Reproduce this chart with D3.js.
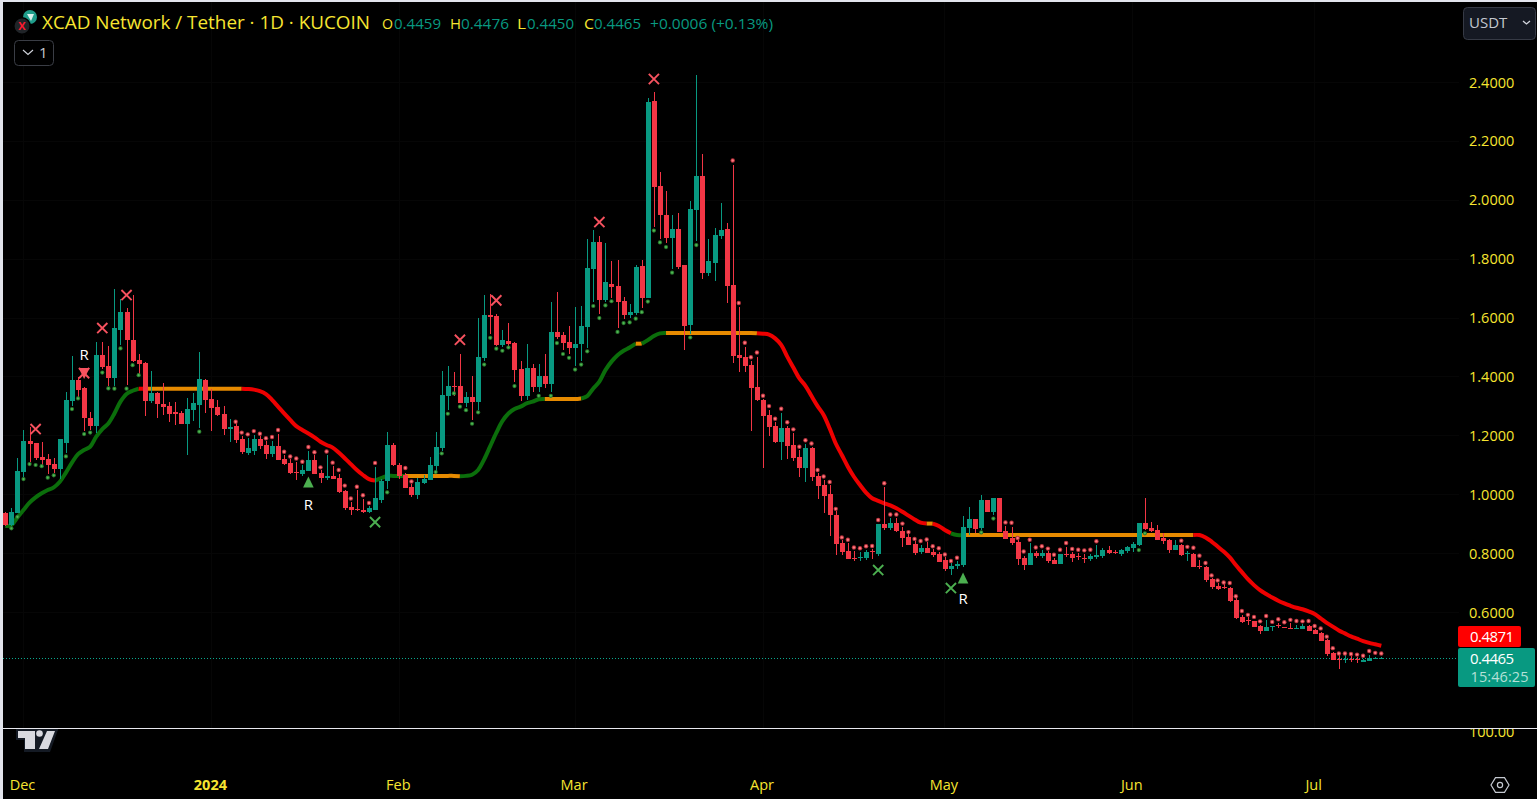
<!DOCTYPE html>
<html><head><meta charset="utf-8">
<script src="https://cdn.jsdelivr.net/npm/d3@7"></script>
<style>
html,body{margin:0;padding:0;background:#000;overflow:hidden}
svg{display:block}
text{font-family:"Open Sans","Noto Sans",sans-serif}
</style></head><body>
<svg id="c" width="1537" height="799"></svg>
<script>
const firstDay = "2023-11-28";
const opens = [
.939,.897,.939,1.078,1.182,1.176,1.128,1.121,1.104,1.087,
1.176,1.318,1.390,1.364,1.261,1.233,1.475,1.437,1.396,1.560,
1.621,1.526,1.458,1.447,1.319,1.345,1.308,1.301,1.281,1.278,
1.240,1.288,1.305,1.390,1.325,1.298,1.274,1.223,1.233,1.189,
1.142,1.148,1.189,1.169,1.138,1.165,1.121,1.108,1.077,1.070,
1.081,1.118,1.074,1.057,1.063,1.057,1.012,.958,.951,.948,
.941,.948,.982,1.047,1.169,1.101,1.067,1.026,.999,1.040,
1.050,1.097,1.159,1.335,1.369,1.369,1.312,1.332,1.315,1.465,
1.610,1.607,1.508,1.522,1.515,1.427,1.335,1.430,1.366,1.403,
1.376,1.552,1.542,1.519,1.498,1.512,1.570,1.767,1.858,1.661,
1.716,1.709,1.658,1.610,1.617,1.777,1.668,2.337,2.049,1.950,
1.872,1.902,1.780,1.576,1.967,2.083,1.753,1.787,1.879,1.902,
1.712,1.475,1.468,1.441,1.366,1.322,1.271,1.233,1.179,1.227,
1.169,1.128,1.091,1.159,1.063,1.033,1.002,.931,.836,.809,
.785,.785,.785,.809,.798,.900,.887,.904,.877,.856,
.832,.805,.819,.805,.798,.778,.748,.759,.761,.887,
.917,.887,.982,.941,.989,.877,.853,.839,.785,.761,
.802,.792,.802,.778,.765,.799,.799,.791,.784,.782,
.787,.792,.812,.807,.799,.809,.819,.829,.904,.887,
.880,.853,.846,.812,.829,.798,.799,.758,.755,.714,
.690,.687,.683,.642,.585,.574,.571,.554,.537,.552,
.557,.550,.547,.545,.545,.554,.540,.530,.507,.462,
.442,.441,.443,.441,.433,.436,.444,.4459];
const highs = [
.942,.955,1.125,1.220,1.231,1.176,1.178,1.138,1.124,1.189,
1.349,1.471,1.401,1.367,1.281,1.519,1.519,1.505,1.699,1.665,
1.633,1.678,1.478,1.452,1.419,1.350,1.378,1.316,1.316,1.284,
1.329,1.344,1.485,1.393,1.358,1.322,1.301,1.257,1.242,1.199,
1.194,1.203,1.199,1.182,1.182,1.206,1.135,1.121,1.111,1.101,
1.148,1.135,1.084,1.135,1.097,1.070,1.016,.975,1.016,.985,
.962,1.095,1.055,1.213,1.176,1.108,1.074,1.036,1.057,1.067,
1.128,1.213,1.420,1.437,1.417,1.478,1.349,1.403,1.600,1.678,
1.682,1.614,1.559,1.583,1.519,1.454,1.512,1.444,1.444,1.478,
1.654,1.688,1.552,1.573,1.637,1.641,1.868,1.899,1.879,1.855,
1.794,1.797,1.671,1.648,1.780,1.797,2.348,2.368,2.096,2.032,
1.950,1.957,1.780,1.998,2.426,2.157,1.868,1.906,1.991,1.923,
2.120,1.637,1.502,1.454,1.468,1.325,1.288,1.247,1.278,1.233,
1.210,1.152,1.172,1.162,1.074,1.050,1.033,.945,.846,.836,
.809,.805,.812,.815,.900,1.026,.921,.921,.890,.866,
.843,.829,.839,.815,.805,.788,.767,.775,.928,.958,
.917,.999,.982,.989,.989,.894,.890,.846,.792,.836,
.809,.812,.809,.785,.799,.822,.805,.802,.799,.799,
.829,.819,.826,.812,.815,.826,.839,.904,.989,.907,
.897,.870,.850,.846,.833,.809,.802,.778,.758,.717,
.699,.701,.688,.648,.590,.584,.571,.558,.574,.554,
.565,.550,.563,.557,.560,.557,.544,.533,.510,.466,
.456,.456,.452,.450,.441,.456,.449,.4476];
const lows = [
.895,.895,.937,1.061,1.112,1.118,1.095,1.070,1.073,1.052,
1.143,1.301,1.333,1.218,1.220,1.211,1.426,1.369,1.369,1.507,
1.373,1.452,1.407,1.268,1.313,1.259,1.271,1.248,1.237,1.239,
1.135,1.250,1.225,1.276,1.216,1.267,1.203,1.180,1.177,1.138,
1.135,1.135,1.155,1.121,1.129,1.118,1.101,1.070,1.050,1.065,
1.081,1.070,1.041,1.050,1.053,1.005,.948,.931,.945,.939,
.937,.948,.971,1.019,1.097,1.053,1.023,.993,.986,1.036,
1.050,1.078,1.149,1.288,1.335,1.312,1.298,1.254,1.288,1.454,
1.546,1.505,1.503,1.497,1.383,1.318,1.321,1.349,1.349,1.362,
1.349,1.529,1.491,1.478,1.437,1.454,1.498,1.654,1.614,1.654,
1.668,1.566,1.597,1.599,1.610,1.634,1.668,1.909,1.869,1.855,
1.767,1.767,1.491,1.546,1.862,1.733,1.743,1.726,1.868,1.651,
1.447,1.417,1.417,1.216,1.318,1.091,1.199,1.176,1.118,1.121,
1.114,1.060,1.043,1.047,.985,.938,.860,.795,.795,.781,
.775,.775,.778,.781,.792,.880,.880,.873,.822,.829,
.795,.798,.802,.788,.771,.741,.727,.748,.754,.863,
.869,.880,.941,.931,.873,.850,.829,.761,.744,.761,
.785,.785,.768,.765,.765,.788,.771,.778,.768,.775,
.782,.785,.799,.799,.792,.802,.805,.826,.880,.873,
.846,.833,.802,.812,.792,.775,.755,.748,.704,.680,
.676,.680,.636,.578,.564,.558,.551,.527,.537,.538,
.547,.546,.545,.545,.545,.537,.527,.503,.452,.439,
.409,.430,.432,.427,.432,.436,.443,.4450];
const closes = [
.897,.942,1.080,1.182,1.173,1.126,1.118,1.101,1.087,1.189,
1.322,1.390,1.356,1.262,1.233,1.475,1.433,1.396,1.566,1.621,
1.526,1.455,1.444,1.319,1.345,1.309,1.299,1.274,1.275,1.240,
1.291,1.312,1.393,1.322,1.295,1.271,1.223,1.230,1.186,1.145,
1.159,1.189,1.165,1.138,1.165,1.118,1.104,1.074,1.074,1.084,
1.118,1.070,1.057,1.063,1.053,1.009,.955,.948,.948,.943,
.955,.989,1.047,1.169,1.101,1.063,1.023,.999,1.043,1.053,
1.101,1.162,1.339,1.369,1.366,1.312,1.332,1.316,1.468,1.610,
1.603,1.508,1.525,1.512,1.423,1.335,1.430,1.366,1.403,1.376,
1.552,1.536,1.515,1.498,1.512,1.573,1.770,1.858,1.661,1.722,
1.705,1.654,1.610,1.620,1.773,1.668,2.334,2.045,1.950,1.872,
1.902,1.773,1.573,1.970,2.083,1.753,1.794,1.882,1.899,1.709,
1.471,1.464,1.437,1.362,1.322,1.267,1.230,1.179,1.227,1.165,
1.125,1.091,1.159,1.060,1.029,.996,.931,.832,.805,.781,
.781,.788,.805,.805,.900,.887,.904,.877,.853,.829,
.802,.819,.802,.795,.771,.748,.758,.766,.890,.917,
.883,.982,.941,.989,.873,.850,.836,.782,.761,.802,
.792,.802,.775,.765,.799,.795,.785,.787,.781,.792,
.795,.812,.802,.803,.812,.822,.833,.904,.884,.877,
.846,.843,.812,.829,.795,.801,.755,.755,.710,.687,
.680,.683,.639,.581,.568,.572,.551,.537,.551,.554,
.554,.546,.545,.547,.554,.538,.527,.503,.459,.439,
.439,.443,.441,.439,.439,.445,.446,.4465];
const trend = [
.894,.897,.923,.948,.973,.991,1.005,1.016,1.025,1.044,
1.075,1.109,1.138,1.152,1.163,1.197,1.223,1.242,1.276,1.316,
1.342,1.353,1.360,1.360,1.360,1.360,1.360,1.360,1.360,1.360,
1.360,1.360,1.360,1.360,1.360,1.360,1.360,1.360,1.360,1.360,
1.359,1.357,1.352,1.342,1.322,1.299,1.276,1.254,1.233,1.220,
1.208,1.195,1.180,1.169,1.160,1.143,1.124,1.104,1.084,1.067,
1.053,1.048,1.056,1.064,1.064,1.064,1.064,1.064,1.064,1.064,
1.064,1.064,1.064,1.064,1.064,1.063,1.064,1.068,1.084,1.120,
1.165,1.210,1.250,1.276,1.291,1.299,1.310,1.316,1.324,1.325,
1.325,1.325,1.325,1.325,1.325,1.327,1.335,1.361,1.384,1.423,
1.452,1.474,1.489,1.500,1.513,1.513,1.525,1.539,1.548,1.549,
1.549,1.549,1.549,1.549,1.549,1.549,1.549,1.549,1.549,1.549,
1.549,1.549,1.549,1.549,1.548,1.547,1.544,1.531,1.509,1.469,
1.432,1.395,1.370,1.335,1.301,1.271,1.225,1.174,1.135,1.095,
1.061,1.033,1.007,.988,.979,.971,.964,.954,.942,.929,
.916,.905,.902,.902,.894,.880,.869,.863,.863,.863,
.863,.863,.863,.863,.863,.863,.863,.863,.863,.863,
.863,.863,.863,.863,.863,.863,.863,.863,.863,.863,
.863,.863,.863,.863,.863,.863,.863,.863,.863,.863,
.863,.863,.863,.863,.863,.863,.863,.863,.855,.841,
.824,.807,.787,.761,.737,.713,.693,.676,.663,.651,
.640,.631,.623,.616,.611,.604,.595,.580,.565,.552,
.539,.529,.519,.511,.503,.497,.492,.4871];
const phaseEnds = [22,23,39,61,66,75,89,95,104,105,109,124,152,153,156,158,196,227];
const phaseKinds = ["up","down","flat","down","up","flat","up","flat","up","flat","up","flat","down","flat","down","up","flat","down"];
const greenDotIdx = [1,2,3,4,5,6,7,8,10,11,12,13,14,16,17,18,19,20,21,22,32,63,71,72,73,74,75,76,77,78,79,80,81,82,83,84,88,90,91,92,93,94,95,96,97,98,99,100,101,102,103,104,105,106,107,108,109,110,113,114,161,163,187,188];
const greenDotVal = [.886,.925,1.053,1.104,1.101,1.097,1.058,1.066,1.130,1.291,1.327,1.206,1.211,1.415,1.361,1.360,1.497,1.360,1.440,1.406,1.214,1.008,1.077,1.140,1.275,1.344,1.299,1.287,1.241,1.280,1.442,1.533,1.496,1.489,1.500,1.369,1.336,1.336,1.515,1.478,1.465,1.425,1.442,1.487,1.641,1.600,1.643,1.657,1.553,1.583,1.585,1.598,1.620,1.656,1.897,1.857,1.841,1.754,1.534,1.848,.872,.919,.812,.869];
const redDotIdx = [38,39,40,41,42,43,44,45,46,47,48,49,50,51,52,53,54,55,56,57,58,59,60,61,66,67,
120,121,122,123,124,125,126,127,128,129,130,131,132,133,134,135,136,137,138,139,140,141,142,143,144,145,146,147,148,149,150,151,152,153,154,155,156,157,
165,166,167,168,169,170,171,172,173,174,175,176,177,178,179,180,
194,195,196,197,198,199,200,201,202,203,204,205,206,207,208,209,210,211,212,213,214,215,216,217,218,219,220,221,222,223,224,225,226,227];
const redDotVal = [1.248,1.211,1.205,1.216,1.207,1.192,1.196,1.220,1.146,1.130,1.123,1.112,1.162,1.144,1.093,1.147,1.109,1.084,1.031,.987,1.027,.998,.972,1.108,1.091,1.045,
2.135,1.651,1.516,1.467,1.483,1.336,1.301,1.258,1.292,1.246,1.222,1.163,1.185,1.174,1.084,1.062,1.043,.952,.855,.847,.821,.818,.825,.826,.914,1.039,.933,.933,.902,.873,.850,.843,.848,.825,.818,.797,.775,.786,
.906,.905,.853,.807,.847,.821,.825,.817,.796,.813,.836,.816,.813,.811,.813,.842,
.844,.823,.820,.793,.768,.726,.709,.702,.700,.655,.605,.592,.585,.570,.588,.568,.577,.567,.575,.571,.570,.571,.554,.546,.518,.479,.461,.461,.459,.457,.453,.469,.463,.461];
const sellCrossIdx = [5,13,16,20,75,81,98,107];
const sellCrossVal = [1.223,1.413,1.566,1.678,1.526,1.660,1.926,2.412];
const buyCrossIdx = [61,144,156];
const buyCrossVal = [.907,.744,.683];
const buyTriIdx = [50,158];
const buyTriVal = [1.043,.717];
const sellTriIdx = [13];
const sellTriVal = [1.413];
const reversalIdx = [13,50,158];
const reversalVal = [1.475,.968,.646];
const priceTicks = [2.4,2.2,2.0,1.8,1.6,1.4,1.2,1.0,.8,.6];
const timeLabels = [["2023-12-01","Dec",false],["2024-01-01","2024",true],["2024-02-01","Feb",false],["2024-03-01","Mar",false],["2024-04-01","Apr",false],["2024-05-01","May",false],["2024-06-01","Jun",false],["2024-07-01","Jul",false]];
const lastClose = 0.4465, trendLast = 0.4871;

const UP="#089981",DOWN="#f23645",YEL="#f7e530";
const svg=d3.select("#c");
const day=86400000, t0=Date.parse(firstDay);
const x=d3.scaleLinear().domain([0,opens.length-1]).range([5.3,1381.3]);
const tx=d=>x((Date.parse(d)-t0)/day);
const y=d3.scaleLinear().domain([.6,2.4]).range([612.5,82.5]);
const round05=v=>Math.round(v-.5)+.5;

svg.append("rect").attr("width",1537).attr("height",799).attr("fill","#000");
// faint grid
const grid=svg.append("g").attr("stroke","#060606").attr("stroke-width",1);
priceTicks.forEach(p=>grid.append("line").attr("x1",3).attr("x2",1459).attr("y1",round05(y(p))).attr("y2",round05(y(p))));
timeLabels.forEach(t=>grid.append("line").attr("x1",round05(tx(t[0]))).attr("x2",round05(tx(t[0]))).attr("y1",2).attr("y2",728));

// trend line
const kindColor={up:"#0b6e0b",down:"#ee0000",flat:"#e68a00"};
const line=d3.line().x(i=>x(i)).y(i=>y(trend[i])).curve(d3.curveCatmullRom.alpha(.5));
const gl=svg.append("g").attr("fill","none").attr("stroke-width",4).attr("stroke-linejoin","round");
phaseEnds.forEach((e,k)=>{
  const s=k?phaseEnds[k-1]:0;
  gl.append("path").attr("d",line(d3.range(s,e+1))).attr("stroke",kindColor[phaseKinds[k]]);
});

// dotted last price line
svg.append("line").attr("x1",3).attr("x2",1458).attr("y1",658.5).attr("y2",658.5).datum(lastClose)
  .attr("stroke","#0aa88e").attr("stroke-dasharray","1 2").attr("shape-rendering","crispEdges");

// candles
const bw=5;
const cg=svg.append("g").attr("shape-rendering","crispEdges");
const idx=d3.range(opens.length);
cg.selectAll(".w").data(idx).join("rect").attr("x",i=>Math.round(x(i))).attr("width",1)
  .attr("y",i=>y(highs[i])).attr("height",i=>Math.max(1,y(lows[i])-y(highs[i])))
  .attr("fill",i=>closes[i]>=opens[i]?UP:DOWN);
cg.selectAll(".b").data(idx).join("rect").attr("x",i=>Math.round(x(i))-2).attr("width",bw)
  .attr("y",i=>y(Math.max(opens[i],closes[i]))).attr("height",i=>Math.max(1,Math.abs(y(opens[i])-y(closes[i]))))
  .attr("fill",i=>closes[i]>=opens[i]?UP:DOWN);

// dots
const dots=svg.append("g");
greenDotIdx.forEach((d,k)=>{
  dots.append("circle").attr("cx",x(d)).attr("cy",y(greenDotVal[k])).attr("r",2.1).attr("fill","#2a7a2e");
  dots.append("circle").attr("cx",x(d)).attr("cy",y(greenDotVal[k])).attr("r",1.1).attr("fill","#4fb854");
});
redDotIdx.forEach((d,k)=>{
  dots.append("circle").attr("cx",x(d)).attr("cy",y(redDotVal[k])).attr("r",2.2).attr("fill","#b8333d");
  dots.append("circle").attr("cx",x(d)).attr("cy",y(redDotVal[k])).attr("r",1.2).attr("fill","#ff7a80");
});

// crosses
function cross(px,py,col){
  const s=5.1;
  svg.append("path").attr("d",`M${px-s},${py-s}L${px+s},${py+s}M${px-s},${py+s}L${px+s},${py-s}`)
    .attr("stroke",col).attr("stroke-width",1.9).attr("fill","none");
}
sellCrossIdx.forEach((d,k)=>cross(x(d),y(sellCrossVal[k]),"#f7525f"));
buyCrossIdx.forEach((d,k)=>cross(x(d),y(buyCrossVal[k]),"#4caf50"));
sellTriIdx.forEach((d,k)=>{const px=x(d),py=y(sellTriVal[k]);
  svg.append("path").attr("d",`M${px-5.5},${py-5}L${px+5.5},${py-5}L${px},${py+6}Z`).attr("fill","#f7525f");});
buyTriIdx.forEach((d,k)=>{const px=x(d),py=y(buyTriVal[k]);
  svg.append("path").attr("d",`M${px-5.3},${py+5.5}L${px+5.3},${py+5.5}L${px},${py-5.5}Z`).attr("fill","#4caf50");});
reversalIdx.forEach((d,k)=>svg.append("text").attr("x",x(d)).attr("y",y(reversalVal[k])+5.5).attr("text-anchor","middle")
  .attr("font-size",15).attr("fill","#fff").text("R"));

// bottom pane: logo clipped under the separator
const defs=svg.append("defs");
defs.append("clipPath").attr("id","below").append("rect").attr("x",0).attr("y",729).attr("width",1537).attr("height",70);
const below=svg.append("g").attr("clip-path","url(#below)");
below.append("path").attr("d","M16,727H59L50,752H24V740H16Z").attr("fill","#141a24");
below.append("path").attr("d","M18,731H35V749H25V738H18ZM47,731H55L48,749H39Z").attr("fill","#d8d9df");
below.append("circle").attr("cx",39.5).attr("cy",733.5).attr("r",3.3).attr("fill","#d8d9df");
below.append("text").attr("x",1469).attr("y",736.5).attr("font-size",14.5).attr("fill",YEL).text("100.00");
svg.append("line").attr("x1",3).attr("x2",1537).attr("y1",728.5).attr("y2",728.5).attr("stroke","#e8e8ee");

// price axis
svg.append("g").selectAll("text").data(priceTicks).join("text")
  .attr("x",1469).attr("y",p=>y(p)+5).attr("font-size",14.5).attr("fill",YEL).text(p=>p.toFixed(4));
// time axis
svg.append("g").selectAll("text").data(timeLabels).join("text")
  .attr("x",d=>tx(d[0])-1).attr("y",790).attr("text-anchor","middle").attr("font-size",14.5)
  .attr("font-weight",d=>d[2]?700:400).attr("fill",YEL).text(d=>d[1]);

// price labels
svg.append("rect").attr("x",1458).attr("y",626).attr("width",63).attr("height",21).attr("rx",2).attr("fill","#ff0000");
svg.append("text").attr("x",1470).attr("y",642).attr("font-size",15).attr("fill","#fff").attr("textLength",44).text(trendLast.toFixed(4));
svg.append("rect").attr("x",1458).attr("y",648).attr("width",77).attr("height",39).attr("rx",2).attr("fill",UP);
svg.append("text").attr("x",1470).attr("y",664).attr("font-size",15).attr("fill","#fff").attr("textLength",44).text(lastClose.toFixed(4));
svg.append("text").attr("x",1470.5).attr("y",682).attr("font-size",14.5).attr("fill","#b5e0d8").attr("textLength",58).text("15:46:25");

// gear
const gx=1500,gy=785;
svg.append("path").attr("d","M"+d3.range(6).map(k=>[gx+9*Math.cos(k*Math.PI/3),gy+8.5*Math.sin(k*Math.PI/3)].join(",")).join("L")+"Z")
  .attr("fill","none").attr("stroke","#c4c8d0").attr("stroke-width",1.2);
svg.append("circle").attr("cx",gx).attr("cy",gy).attr("r",2.6).attr("fill","none").attr("stroke","#c4c8d0").attr("stroke-width",1.2);

// header
svg.append("circle").attr("cx",30).attr("cy",17).attr("r",7).attr("fill","#1f9d8b");
svg.append("path").attr("d","M27,14H34L31,21Z").attr("fill","#d8f2ee");
svg.append("circle").attr("cx",22).attr("cy",26).attr("r",8.2).attr("fill","#202428").attr("stroke","#000").attr("stroke-width",1.5);
svg.append("text").attr("x",22).attr("y",30).attr("text-anchor","middle").attr("font-size",11).attr("font-weight",700).attr("fill","#ff1a30").text("X");
svg.append("text").attr("x",42).attr("y",29).attr("font-size",19).attr("fill",YEL).attr("textLength",328).attr("lengthAdjust","spacingAndGlyphs").text("XCAD Network / Tether · 1D · KUCOIN");
const hdr=[[382,"O",YEL,11],[394,"0.4459",UP,47],[450,"H",YEL,11],[461,"0.4476",UP,48],[517,"L",YEL,9],[527,"0.4450",UP,47],[584,"C",YEL,10],[594,"0.4465",UP,47],[650,"+0.0006 (+0.13%)",UP,123]];
hdr.forEach(h=>svg.append("text").attr("x",h[0]).attr("y",28.5).attr("font-size",15).attr("fill",h[2]).attr("textLength",h[3]).attr("lengthAdjust","spacingAndGlyphs").text(h[1]));

// buttons
svg.append("rect").attr("x",14.5).attr("y",40.5).attr("width",39).attr("height",25).attr("rx",4).attr("fill","#000").attr("stroke","#3a3d45");
svg.append("path").attr("d","M23,50L28,54.5L33,50").attr("fill","none").attr("stroke","#d1d4dc").attr("stroke-width",1.1);
svg.append("text").attr("x",39).attr("y",58).attr("font-size",15).attr("fill","#c4c8d0").text("1");
svg.append("rect").attr("x",1463.5).attr("y",7.5).attr("width",72).attr("height",32).attr("rx",4).attr("fill","#151923").attr("stroke","#363a45");
svg.append("text").attr("x",1469).attr("y",28).attr("font-size",15).attr("fill","#c4c8d0").text("USDT");
svg.append("path").attr("d","M1523,21L1526.5,24L1530,21").attr("fill","none").attr("stroke","#d1d4dc").attr("stroke-width",1.3);

// window frame
svg.append("rect").attr("x",0).attr("y",0).attr("width",3).attr("height",799).attr("fill","#e2e4ec");
svg.append("rect").attr("x",0).attr("y",0).attr("width",1537).attr("height",2).attr("fill","#e2e4ec");
</script>
</body></html>
